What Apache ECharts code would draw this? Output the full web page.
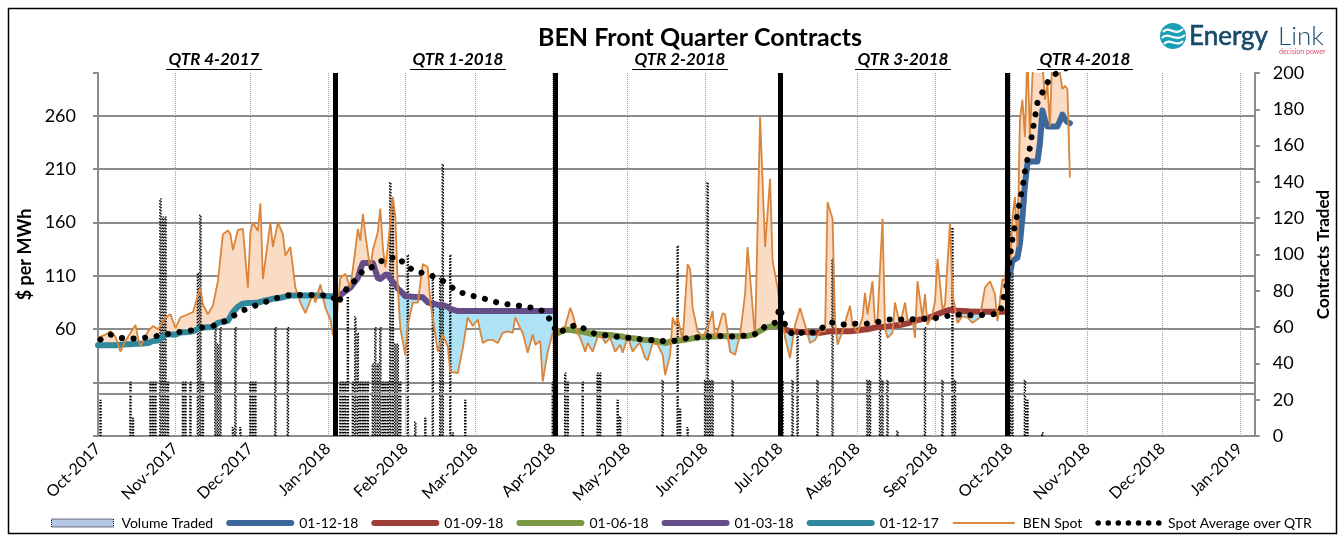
<!DOCTYPE html>
<html><head><meta charset="utf-8">
<script src="https://cdn.jsdelivr.net/npm/echarts@6/dist/echarts.min.js"></script>
<style>html,body{margin:0;padding:0;background:#fff}#c{width:1340px;height:536px}</style>
</head><body><div id="c"></div>
<script>
// ---- axis / categories (day 0 = 1 Oct 2017) ----
const DAY_COUNT = 464;
const monthLabels = ['Oct-2017','Nov-2017','Dec-2017','Jan-2018','Feb-2018','Mar-2018','Apr-2018','May-2018','Jun-2018','Jul-2018','Aug-2018','Sep-2018','Oct-2018','Nov-2018','Dec-2018','Jan-2019'];
const monthStartDays = [0,31,61,92,123,151,182,212,243,273,304,335,365,396,426,457];
const leftTicksShown = [60,110,160,210,260];

// ---- BEN spot & front-quarter forward, sampled on the same days ----
const tableDays = [
 0,3,5,7,9,11,13,15,16,17, 20,22,24,27,29,31,33,36,38,41, 42,44,46,48,50,52,53,54,56,58, 60,61,62,64,65,66,69,70,72,74, 75,77,79,81,83,86,87,89,91,93, 94,
 95,96,97,99,101,103,104,105,106,107, 109,110,112,113,114,115,116,118,119,120, 121,123,124,126,128,130,132,133,134,136, 138,140,141,144,146,148,150,152,154,156, 158,160,162,164,166,167,169,170,172,174, 175,177,178,179,180,182,
 183,184,187,189,190,192,193,195,196,198, 200,202,203,205,207,209,210,212,214,216, 217,219,220,222,224,226,227,229,230,231, 232,234,236,237,238,240,242,244,246,247, 248,250,251,253,255,257,259,260,263,265, 267,269,270,272,
 273,274,275,277,278,279,281,283,285,287, 289,291,292,294,295,296,298,301,302,304, 306,307,308,310,311,312,314,315,316,318, 319,321,323,324,326,327,328,330,331,332, 334,335,336,338,339,341,342,344,346,348, 350,353,355,357,359,360,362,363,
 364,365,366,367,368,369,370,371,372,373, 374,375,376,377,378,379,380,381,382,384, 385,386,387,388,389
];
const spotPrice = [
 52,55,58,53,39,49,56.5,64,52,44, 58,63,60,71,74,61,71,74,76,99, 83,74,82,105,149,152.5,149,134,153,154, 99,151,160,152,178,107,160,137,160,149, 129,137,99,85,75,93,85,102,80,69, 55,
 52,83,108,112,99,134,154,143,168,149, 115,134,151,173,137,118,137,184,165,99, 61,36,64,85,85,121,118,85,71,39, 55,44,20,19,42,71,63,69,47,50, 50,47,56.5,58,56.5,71,61,56.5,38,55, 45.5,49,11,25,39,56.5,
 56,58,63,80,74,56.5,52,39,47,39, 53,52,47,52,39,45.5,38,53,39,45.5, 47,33,31,47,45.5,36,17,36,71,64, 71,50,121,116,80,58,53,61,77,52, 58,75,74,39,36,55,93,137,52,260, 137,201,124,99,
 80,67.5,52,33,49,64,80,64,47,50, 58,58,179,163.5,67.5,45.5,58,82,64,56.5, 71,94,74,105,66,69,163.5,61,52,56.5, 85,64,85,69,69,52,105,71,93,64, 74,86,126,79,83,159,93,66,72,71, 66,71,99,105,93,67.5,107,105,
 141,118,165,184,137,256,275,240,320,240, 297,320,310,320,310,275,290,250,320,320, 300,285,288,285,202
];
const frontForward = [
 45,45,45,45,45.5,46,46,46.5,46.5,46.5, 47,49,49.5,55,55,55,57,57.5,58,61.5, 61.7,61.8,62,66,67,68,72,76,81,84, 84.5,84.5,84.7,85,85.5,86.5,88,88.5,89,90, 90.5,91.5,91.5,91.5,91.5,91.5,91.5,91.5,91.2,91, 91,
 89,90,92,95.5,99,105,108,116,122,122, 122,122,108,107,109,111,111,104,102,98, 96,91,91,90.5,90.2,90,85,84.5,84,83, 82.5,81,79,77,77,77,77,77,77,77, 77,77,77,77,77,77,77,77,77,77, 77,77,77,77,77,77,
 56,56.5,59.5,59.3,59,58,58,57,56.5,55.6, 55.4,55,54.8,54.5,54,53.4,53,51.8,51.5,51, 50.5,50,49.8,49.5,48.7,47.7,47,48.3,48.7,49, 49.3,49.8,50.5,51,51.5,52.5,52.8,53,53.2,53.3, 53.4,53.4,53.4,53.4,53.4,53.4,53.6,53.7,55.5,58.5, 61.3,62.5,63,64,
 62,61,60,58,58,57.8,57.5,57.3,57,56.7, 56.6,57.4,57.8,58,58,58,58,58,58.3,58.8, 59.5,59.8,60,61,61.5,62,62,62.3,62.5,63, 63.5,64,65,65.5,67,68,68.5,69.5,70,70.5, 72,73,74,76,77,78,78,77.2,77,76.8, 76.5,76.4,76.4,76.4,76.4,76.4,76.4,76.4,
 107,112,124,125.5,127,140,165,195,215,217, 217,217,217,234,265,256,250,250,250,250, 255,261,257,254,253
];

// ---- forward contracts (which front contract applies on which days) ----
const contractNames = ['01-12-17','01-03-18','01-06-18','01-09-18','01-12-18'];
const contractColors = ['#31879b','#654e88','#7b9942','#9c3d38','#3c679d'];
const contractFirstDay = [0,95,183,273,364];
const contractLastDay = [94,182,272,363,389];
const quarterLineDays = [95,183,273,364];

// ---- spot average over quarter ----
const avgDays = [1,5,9,14,18,23,28,32,37,41,46,50,54,58,62,67,71,76,80,85,89,94,
 96,98,100,103,106,109,113,117,120,123,127,131,136,140,143,148,152,157,161,166,170,175,179,
 184,188,192,196,200,204,209,214,218,223,227,232,236,241,246,250,255,259,264,267,271,
 273,274,276,279,283,287,293,298,302,307,311,316,320,325,329,334,338,343,348,352,357,361,
 364,365,366,367,368,369,370,371,372,373,374,375,376,378,380,382,385,388];
const avgVals = [50.3,55,51.8,51.2,51.8,53.4,55.6,57.2,58.7,61.3,63.1,66.6,72.3,77.6,81.4,85.5,88.9,91.8,92.1,92.1,92.1,90.5,
 83.9,92.7,99.6,105.9,114.7,117.2,123.5,126.7,127.9,120,114.1,112.2,107.8,102.8,96.5,92.1,90.2,87.1,84.2,82.7,81.7,79.5,76.4,
 56,61.3,64.5,58.2,55,54.1,52.5,51.9,50.3,49.7,48.7,49.4,51.9,52.5,53.5,53.8,53.1,54.1,56,62.6,66.1,
 81,70,59,54,58.1,56.5,66.6,64.4,65.3,65,66.3,69.1,69.1,69.1,69.7,70,71.6,73.8,73.2,73.2,73.8,74.8,
 105,128,144.6,158,168,180,192,208,219,230,245,258,272,282,291,297,302,305];

// ---- volume traded (contracts) ----
const volDays = [1,13,14,21,22,23,25,26,27,28,34,35,37,40,41,42,47,48,49,54,55,57,61,62,63,71,76,
 95,97,98,99,100,102,103,104,105,106,107,108,110,111,112,113,114,115,116,117,118,119,120,121,124,127,131,134,137,138,141,142,147,
 182,183,187,188,194,200,201,208,209,226,232,233,236,243,244,245,246,254,
 274,278,280,288,294,308,309,313,314,316,320,331,338,342,343,
 364,365,366,371,372,378];
const volVals = [20,30,10,30,30,30,131,121,121,30,30,30,30,90,122,30,60,51,60,5,60,5,30,30,30,60,60,
 30,30,30,30,77,30,66,57,30,30,30,30,40,60,40,60,30,30,30,140,130,51,51,30,100,8,10,90,88,150,100,2,20,
 30,35,35,30,30,35,35,20,11,31,105,15,5,31,140,31,31,31,
 31,31,57,31,98,31,31,60,31,31,3,60,31,115,31,
 30,120,90,31,20,2];

// ---- quarter headings ----
const quarterTitles = ['QTR 4-2017','QTR 1-2018','QTR 2-2018','QTR 3-2018','QTR 4-2018'];

// ================= build =================
const cats = [];
for (let i = 0; i < DAY_COUNT; i++) cats.push('D' + i);
const monthSet = new Set(monthStartDays);

const fillBase = tableDays.map((d,i)=>[d, Math.min(spotPrice[i], frontForward[i])]);
const fillAbove = tableDays.map((d,i)=>[d, Math.max(spotPrice[i]-frontForward[i], 0)]);
const fillBelow = tableDays.map((d,i)=>[d, Math.max(frontForward[i]-spotPrice[i], 0)]);
const spotData = tableDays.map((d,i)=>[d, spotPrice[i]]);
const avgData = avgDays.map((d,i)=>[d, avgVals[i]]);
const volData = volDays.map((d,i)=>[d, volVals[i]]);

const FONT = 'Lato';
const series = [];
series.push({name:'zeroLine', type:'line', data:[], silent:true, z:0, yAxisIndex:0,
  markLine:{silent:true, symbol:['none','none'], label:{show:false}, animation:false,
    lineStyle:{color:'#8c8c8c', width:2, type:'solid'}, data:[{yAxis:0}]}});
series.push({name:'fillBase', type:'line', stack:'gap', data:fillBase, symbol:'none', silent:true, z:1,
  lineStyle:{width:0, opacity:0}});
series.push({name:'fillAbove', type:'line', stack:'gap', data:fillAbove, symbol:'none', silent:true, z:1,
  lineStyle:{width:0, opacity:0}, areaStyle:{color:'#fadcc5', opacity:1}});
series.push({name:'fillBelow', type:'line', stack:'gap', data:fillBelow, symbol:'none', silent:true, z:1,
  lineStyle:{width:0, opacity:0}, areaStyle:{color:'#aee2f5', opacity:1}});
series.push({name:'Volume Traded', type:'bar', yAxisIndex:1, data:volData, barWidth:2.5, z:2, silent:true,
  itemStyle:{color:'rgba(0,0,0,0.12)', borderColor:'#000', borderWidth:1.3, borderType:[1.5,1.5]}});
contractNames.forEach((nm, k)=>{
  const pts = [];
  tableDays.forEach((d,i)=>{ if (d >= contractFirstDay[k] && d <= contractLastDay[k]) pts.push([d, frontForward[i]]); });
  series.push({name:nm, type:'line', data:pts, symbol:'none', z:3, silent:true,
    lineStyle:{color:contractColors[k], width:6, cap:'round', join:'round'}, itemStyle:{color:contractColors[k]}});
});
series.push({name:'BEN Spot', type:'line', data:spotData, symbol:'none', z:4, silent:true,
  lineStyle:{color:'#d9853b', width:1.8}, itemStyle:{color:'#d9853b'}});
series.push({name:'qtrLines', type:'line', data:[], silent:true, z:5,
  markLine:{silent:true, symbol:['none','none'], label:{show:false}, animation:false,
    lineStyle:{color:'#000', width:5, type:'solid'}, data:quarterLineDays.map(d=>({xAxis:d}))}});
series.push({name:'Spot Average over QTR', type:'line', data:avgData, symbol:'none', z:6, silent:true,
  lineStyle:{color:'#000', width:6, type:[0.1, 11.5], cap:'round'}, itemStyle:{color:'#000'}});

const qCenters = [214, 458, 680, 903, 1085];
const graphics = [
  {type:'rect', silent:true, z:-10, shape:{x:8.5, y:8.5, width:1328, height:525}, style:{fill:null, stroke:'#000', lineWidth:1.5}},
  {type:'circle', silent:true, shape:{cx:1173, cy:36, r:13}, style:{fill:'#1b9fb6'}},
  {type:'bezierCurve', silent:true, shape:{x1:1163,y1:32,cpx1:1169,cpy1:25,cpx2:1175,cpy2:37,x2:1183,y2:29}, style:{stroke:'#fff', lineWidth:2.2, fill:null}},
  {type:'bezierCurve', silent:true, shape:{x1:1162,y1:38,cpx1:1168,cpy1:31,cpx2:1176,cpy2:43,x2:1185,y2:35}, style:{stroke:'#fff', lineWidth:2.2, fill:null}},
  {type:'bezierCurve', silent:true, shape:{x1:1164,y1:44,cpx1:1170,cpy1:37,cpx2:1176,cpy2:48,x2:1183,y2:41}, style:{stroke:'#fff', lineWidth:2.2, fill:null}},
  {type:'text', silent:true, style:{text:'Energy', x:1189, y:37, font:'26px Lato', fill:'#164869', textVerticalAlign:'middle', verticalAlign:'middle', stroke:'#164869', lineWidth:0.6}},
  {type:'text', silent:true, style:{text:'Link', x:1278, y:37, font:'300 26px Lato', fill:'#1c4e6e', textVerticalAlign:'middle', verticalAlign:'middle'}},
  {type:'text', silent:true, style:{text:'decision power', x:1279, y:51.5, font:'7px Lato', fill:'#d8506f', textVerticalAlign:'middle', verticalAlign:'middle'}}
];
quarterTitles.forEach((t,i)=>{
  graphics.push({type:'text', silent:true, style:{text:t, x:qCenters[i], y:60, font:'italic bold 17px Lato', fill:'#000',
    textAlign:'center', align:'center', textVerticalAlign:'middle', verticalAlign:'middle'}});
  graphics.push({type:'line', silent:true, shape:{x1:qCenters[i]-48, y1:69.5, x2:qCenters[i]+48, y2:69.5}, style:{stroke:'#000', lineWidth:1.2}});
});

const lineLegend = (nm)=>({name:nm, lineStyle:{width:6, cap:'round'}, itemStyle:{opacity:0}});
const chart = echarts.init(document.getElementById('c'), null, {renderer:'canvas'});
chart.setOption({
  animation:false,
  backgroundColor:'#fff',
  textStyle:{fontFamily:FONT},
  title:{text:'BEN Front Quarter Contracts', left:533, top:20, textStyle:{fontSize:25, fontWeight:'bold', color:'#000', fontFamily:FONT}},
  grid:{left:98, right:75, top:73, bottom:100, containLabel:false},
  legend:{top:511, left:46, itemWidth:62, itemHeight:8, itemGap:13, selectedMode:false,
    textStyle:{fontSize:14, color:'#000', fontFamily:FONT, padding:[0,0,0,3]},
    data:[
      {name:'Volume Traded', icon:'rect', itemStyle:{color:'#b4c7e7', borderColor:'#000', borderWidth:1, borderType:'dotted'}},
      lineLegend('01-12-18'), lineLegend('01-09-18'), lineLegend('01-06-18'), lineLegend('01-03-18'), lineLegend('01-12-17'),
      {name:'BEN Spot', lineStyle:{width:2}, itemStyle:{opacity:0}},
      {name:'Spot Average over QTR', lineStyle:{width:5.5, type:[0.1,10], cap:'round'}, itemStyle:{opacity:0}}
    ]},
  xAxis:{type:'category', data:cats, boundaryGap:false,
    axisLine:{onZero:false, lineStyle:{color:'#8c8c8c', width:2}},
    axisTick:{show:false},
    axisLabel:{interval:(i)=>monthSet.has(i), rotate:45, margin:10, fontSize:16, color:'#000', fontFamily:FONT,
      formatter:(v,i)=>{ const k = monthStartDays.indexOf(i); return k>=0 ? monthLabels[k] : ''; }},
    splitLine:{show:true, interval:(i)=>monthSet.has(i), lineStyle:{color:'#a0a0a0', type:'dotted', width:1}}},
  yAxis:[
    {type:'value', min:-40, max:300, interval:50, position:'left',
      name:'$ per MWh', nameLocation:'middle', nameGap:64, nameRotate:90,
      nameTextStyle:{fontSize:18, fontWeight:'bold', color:'#000', fontFamily:FONT},
      axisLine:{show:true, lineStyle:{color:'#8c8c8c', width:2}},
      axisTick:{show:true, length:5, lineStyle:{color:'#8c8c8c', width:2}},
      axisLabel:{fontSize:18, color:'#000', margin:22, fontFamily:FONT,
        formatter:(v)=> leftTicksShown.indexOf(v) >= 0 ? String(v) : ''},
      splitLine:{show:true, showMaxLine:false, showMinLine:false, lineStyle:{color:'#8c8c8c', width:2}}},
    {type:'value', min:0, max:200, interval:20, position:'right',
      name:'Contracts Traded', nameLocation:'middle', nameGap:58, nameRotate:90,
      nameTextStyle:{fontSize:17, fontWeight:'bold', color:'#000', fontFamily:FONT},
      axisLine:{show:true, lineStyle:{color:'#8c8c8c', width:2}},
      axisTick:{show:true, length:5, lineStyle:{color:'#8c8c8c', width:2}},
      axisLabel:{fontSize:18, color:'#000', margin:18, fontFamily:FONT},
      splitLine:{show:false}}
  ],
  graphic:graphics,
  series:series
});
if (tableDays.length !== spotPrice.length || tableDays.length !== frontForward.length) console.error('table length mismatch', tableDays.length, spotPrice.length, frontForward.length);
if (avgDays.length !== avgVals.length) console.error('avg mismatch');
if (volDays.length !== volVals.length) console.error('vol mismatch');
</script></body></html>
